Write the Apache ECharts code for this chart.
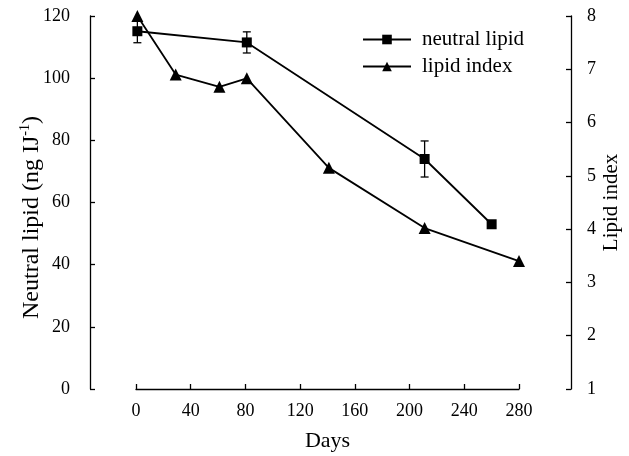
<!DOCTYPE html>
<html>
<head>
<meta charset="utf-8">
<script src="https://cdn.jsdelivr.net/npm/echarts@6/dist/echarts.min.js"></script>
<style>
  html, body { margin: 0; padding: 0; background: #fff; overflow: hidden; }
  #chart { width: 629px; height: 456px; }
</style>
</head>
<body>
<div id="chart"></div>
<script>
// Neutral lipid (left axis) with standard deviation
const neutralDays = [1, 81, 211, 260];
const neutralLipid = [115.1, 111.5, 74, 53];
const neutralErr = [3.7, 3.4, 5.8, 0];

// Lipid index (right axis)
const indexDays = [1, 29, 61, 81, 141, 211, 280];
const lipidIndex = [8.0, 6.9, 6.67, 6.83, 5.15, 4.02, 3.4];

// Axis ranges
const dayTicks = { min: 0, max: 280, step: 40 };
const lipidTicks = { min: 0, max: 120, step: 20 };
const indexTicks = { min: 1, max: 8, step: 1 };

const FONT = '"Liberation Serif", "Times New Roman", serif';
const INK = '#000';

const neutralPoints = neutralDays.map((d, i) => [d, neutralLipid[i]]);
const indexPoints = indexDays.map((d, i) => [d, lipidIndex[i]]);
const errorRanges = neutralDays
  .map((d, i) => [d, neutralLipid[i] - neutralErr[i], neutralLipid[i] + neutralErr[i]])
  .filter((r, i) => neutralErr[i] > 0);

const chart = echarts.init(document.getElementById('chart'), null, { renderer: 'canvas', width: 629, height: 456 });

chart.setOption({
  animation: false,
  backgroundColor: '#fff',
  grid: { left: 136, right: 110, top: 16, bottom: 67, containLabel: false, outerBoundsMode: 'none' },
  legend: {
    orient: 'vertical',
    left: 362,
    top: 29,
    padding: 0,
    itemWidth: 48,
    itemHeight: 12,
    itemGap: 6,
    textStyle: { fontFamily: FONT, fontSize: 21, color: INK, lineHeight: 21, padding: [0, 0, 0, 6] },
    data: ['neutral lipid', 'lipid index']
  },
  xAxis: {
    type: 'value',
    min: dayTicks.min,
    max: dayTicks.max,
    interval: dayTicks.step,
    name: 'Days',
    nameLocation: 'middle',
    nameGap: 41,
    nameMoveOverlap: false,
    nameTextStyle: { fontFamily: FONT, fontSize: 22, color: INK },
    axisLine: { show: true, onZero: false, lineStyle: { color: INK, width: 1.3 } },
    axisTick: { show: true, inside: true, length: 5, lineStyle: { color: INK, width: 1.3 } },
    axisLabel: { fontFamily: FONT, fontSize: 18, color: INK, margin: 13 },
    splitLine: { show: false }
  },
  yAxis: [
    {
      type: 'value',
      position: 'left',
      offset: 46,
      min: lipidTicks.min,
      max: lipidTicks.max,
      interval: lipidTicks.step,
      name: 'Neutral lipid (ng IJ{sup|-1})',
      nameLocation: 'middle',
      nameRotate: 90,
      nameGap: 45,
      nameMoveOverlap: false,
      nameTextStyle: {
        fontFamily: FONT, fontSize: 24, color: INK,
        padding: [0, 30, 0, 0],
        rich: { sup: { fontFamily: FONT, fontSize: 14, color: INK, padding: [0, 0, 13, 0] } }
      },
      axisLine: { show: true, onZero: false, lineStyle: { color: INK, width: 1.3 } },
      axisTick: { show: true, inside: true, length: 5, lineStyle: { color: INK, width: 1.3 } },
      axisLabel: { fontFamily: FONT, fontSize: 18, color: INK, margin: 20 },
      splitLine: { show: false }
    },
    {
      type: 'value',
      position: 'right',
      offset: 52,
      min: indexTicks.min,
      max: indexTicks.max,
      interval: indexTicks.step,
      name: 'Lipid index',
      nameLocation: 'middle',
      nameRotate: 90,
      nameGap: 30,
      nameMoveOverlap: false,
      nameTextStyle: { fontFamily: FONT, fontSize: 21, color: INK },
      axisLine: { show: true, onZero: false, lineStyle: { color: INK, width: 1.3 } },
      axisTick: { show: true, inside: true, length: 5, lineStyle: { color: INK, width: 1.3 } },
      axisLabel: { fontFamily: FONT, fontSize: 18, color: INK, margin: 16 },
      splitLine: { show: false }
    }
  ],
  series: [
    {
      name: 'neutral lipid',
      type: 'line',
      yAxisIndex: 0,
      data: neutralPoints,
      symbol: 'rect',
      symbolSize: 10,
      clip: false,
      lineStyle: { color: INK, width: 1.8 },
      itemStyle: { color: INK },
      z: 3
    },
    {
      name: 'lipid index',
      type: 'line',
      yAxisIndex: 1,
      data: indexPoints,
      symbol: 'triangle',
      symbolSize: 12,
      clip: false,
      lineStyle: { color: INK, width: 1.8 },
      itemStyle: { color: INK },
      z: 3
    },
    {
      name: 'neutral lipid sd',
      type: 'custom',
      yAxisIndex: 0,
      data: errorRanges,
      encode: { x: 0, y: [1, 2] },
      z: 2,
      renderItem: function (params, api) {
        const x = api.value(0);
        const lo = api.coord([x, api.value(1)]);
        const hi = api.coord([x, api.value(2)]);
        const cap = 4;
        const style = { stroke: INK, lineWidth: 1.3 };
        return {
          type: 'group',
          children: [
            { type: 'line', shape: { x1: lo[0], y1: lo[1], x2: hi[0], y2: hi[1] }, style: style },
            { type: 'line', shape: { x1: lo[0] - cap, y1: lo[1], x2: lo[0] + cap, y2: lo[1] }, style: style },
            { type: 'line', shape: { x1: hi[0] - cap, y1: hi[1], x2: hi[0] + cap, y2: hi[1] }, style: style }
          ]
        };
      }
    }
  ]
});
</script>
</body>
</html>
